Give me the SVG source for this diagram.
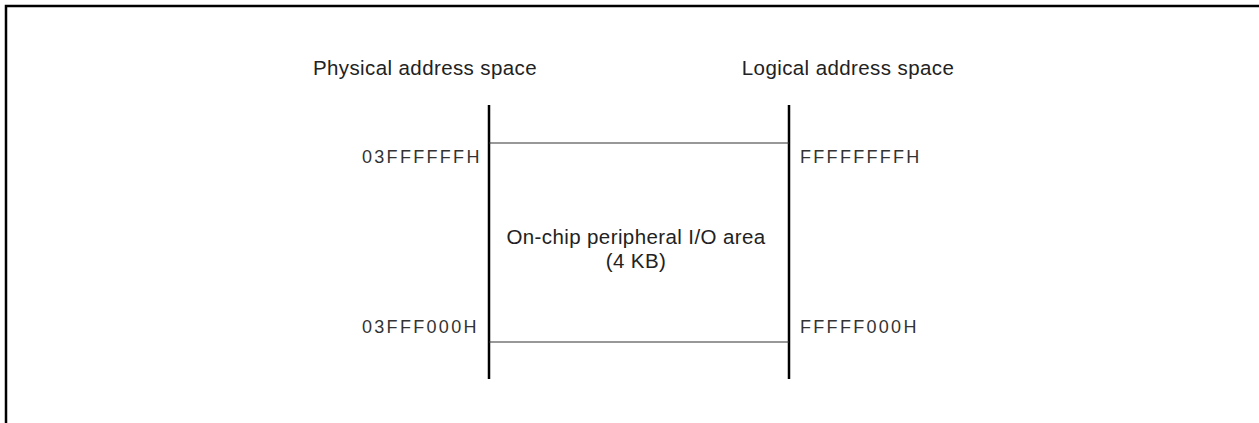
<svg xmlns="http://www.w3.org/2000/svg" width="1259" height="423" viewBox="0 0 1259 423">
<style>
.t{font-family:"Liberation Sans",Arial,sans-serif;font-size:20.5px;letter-spacing:0.4px;fill:#222}
.a{font-family:"Liberation Sans",Arial,sans-serif;font-size:18px;fill:#333;letter-spacing:2.3px}
.v{stroke:#000;stroke-width:2.5;fill:none}
.h{stroke:#333;stroke-width:1.2;fill:none}
</style>
<rect width="1259" height="423" fill="#fff"/>
<g id="frame"><path d="M6 423 V6 H1259" class="v"/></g>
<g id="headers">
<text class="t" x="425" y="75" text-anchor="middle">Physical address space</text>
<text class="t" x="848" y="75" text-anchor="middle">Logical address space</text>
</g>
<g id="io-area">
<text class="t" x="636" y="244" text-anchor="middle">On-chip peripheral I/O area</text>
<text class="t" x="636" y="268" text-anchor="middle">(4 KB)</text>
</g>
<g id="addresses">
<text class="a" x="362" y="163">03FFFFFFH</text>
<text class="a" x="362" y="333">03FFF000H</text>
<text class="a" x="800" y="163">FFFFFFFFH</text>
<text class="a" x="800" y="333">FFFFF000H</text>
</g>
<g id="connectors">
<line class="v" x1="489" y1="105" x2="489" y2="379"/>
<line class="v" x1="789" y1="105" x2="789" y2="379"/>
<line class="h" x1="489" y1="143" x2="789" y2="143"/>
<line class="h" x1="489" y1="342" x2="789" y2="342"/>
</g>
</svg>
